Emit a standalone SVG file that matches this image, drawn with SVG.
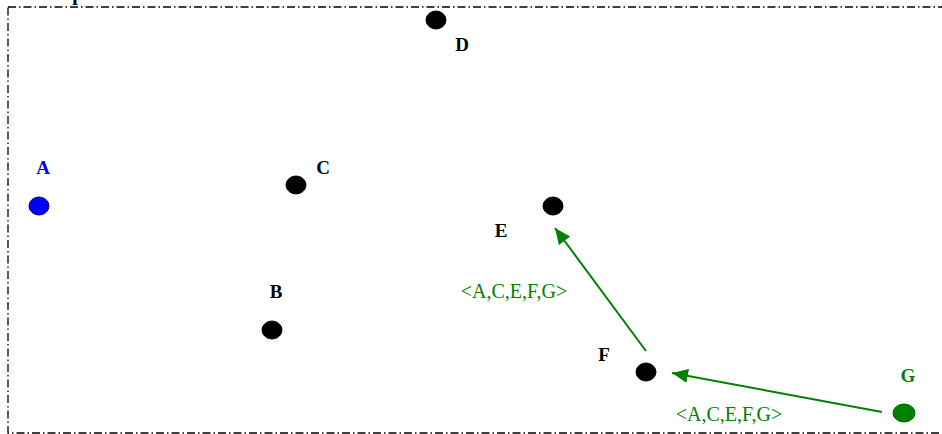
<svg xmlns="http://www.w3.org/2000/svg" width="942" height="434" viewBox="0 0 942 434">
<defs>
<style>
.nl{font-family:"Liberation Serif","Times New Roman",serif;font-weight:bold;font-size:19px;text-anchor:middle}
.el{font-family:"Liberation Serif","Times New Roman",serif;font-size:20px;text-anchor:middle;fill:#008000}
.blk{fill:#000;stroke:#000;stroke-width:1}
.edge{stroke:#008000;stroke-width:2;fill:none}
</style>
<marker id="arrG" viewBox="0 0 16 14" refX="16" refY="7" markerWidth="16" markerHeight="14" markerUnits="userSpaceOnUse" orient="auto">
<path d="M0,0 L16,7 L0,14 z" fill="#008000"/>
</marker>
</defs>
<rect x="8" y="7" width="950" height="426" fill="none" stroke="#000" stroke-width="1.3" stroke-dasharray="8,3,1.5,3"/>
<text x="27" y="-0.5" class="nl" style="text-anchor:start;font-size:20px">Group</text>
<g id="connectors">
<g id="edge-G-F">
<path class="edge" d="M882,412 L672,373" marker-end="url(#arrG)"/>
<text x="729" y="421" class="el">&lt;A,C,E,F,G&gt;</text>
</g>
<g id="edge-F-E">
<path class="edge" d="M646,351 L555,228" marker-end="url(#arrG)"/>
<text x="514" y="298" class="el">&lt;A,C,E,F,G&gt;</text>
</g>
</g>
<g id="node-A">
<ellipse cx="39" cy="206" rx="10" ry="9" fill="#0000ff" stroke="#000080" stroke-width="1"/>
<text x="43" y="174" class="nl" fill="#0000ff">A</text>
</g>
<g id="node-B">
<ellipse cx="272" cy="330" rx="10" ry="9" class="blk"/>
<text x="276" y="298" class="nl">B</text>
</g>
<g id="node-C">
<ellipse cx="296" cy="185" rx="10" ry="9" class="blk"/>
<text x="323" y="174" class="nl">C</text>
</g>
<g id="node-D">
<ellipse cx="436" cy="20" rx="10" ry="9" class="blk"/>
<text x="462" y="51" class="nl">D</text>
</g>
<g id="node-E">
<ellipse cx="553" cy="206" rx="10" ry="9" class="blk"/>
<text x="501" y="237" class="nl">E</text>
</g>
<g id="node-F">
<ellipse cx="646" cy="372" rx="10" ry="9" class="blk"/>
<text x="604" y="361" class="nl">F</text>
</g>
<g id="node-G">
<ellipse cx="904" cy="413" rx="11" ry="9" fill="#008000" stroke="#006400" stroke-width="1"/>
<text x="908" y="382" class="nl" fill="#008000">G</text>
</g>
</svg>
